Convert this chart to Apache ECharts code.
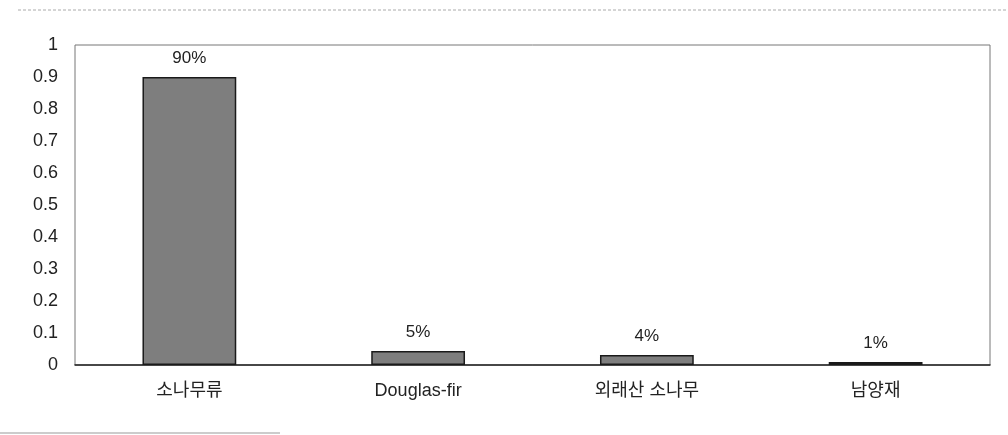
<!DOCTYPE html>
<html>
<head>
<meta charset="utf-8">
<script src="https://cdn.jsdelivr.net/npm/echarts@6/dist/echarts.min.js"></script>
<style>
  html,body{margin:0;padding:0;background:#fff;}
  #main{width:1008px;height:435px;}
</style>
</head>
<body>
<div id="main"></div>
<script>
// 카테고리와 값
var categories=["소나무류","Douglas-fir","외래산 소나무","남양재"];
var shares=[0.9,0.044,0.031,0.009];
var shareLabels=["90%","5%","4%","1%"];
var yTicks=[0,0.1,0.2,0.3,0.4,0.5,0.6,0.7,0.8,0.9,1];

var myChart=echarts.init(document.getElementById('main'));
var font="'Liberation Sans', 'Noto Sans CJK KR', sans-serif";

var option={
    backgroundColor:'#fff',
    animation:false,
    grid:{
        left:75,
        right:18,
        top:45,
        bottom:70,
        show:true,
        borderColor:'#777',
        borderWidth:1
    },
    graphic:[
        {type:'line',shape:{x1:18,y1:10,x2:1008,y2:10},style:{stroke:'#aaa',lineWidth:1,lineDash:[3,2]}},
        {type:'line',shape:{x1:0,y1:433,x2:280,y2:433},style:{stroke:'#999',lineWidth:1}}
    ],
    xAxis:{
        type:'category',
        data:categories,
        axisLine:{lineStyle:{color:'#222',width:1.5}},
        axisTick:{show:false},
        axisLabel:{
            color:'#222',
            fontSize:18,
            fontFamily:font,
            margin:17
        }
    },
    yAxis:{
        type:'value',
        min:0,
        max:1,
        interval:0.1,
        axisLine:{show:false},
        axisTick:{show:false},
        splitLine:{show:false},
        axisLabel:{
            color:'#222',
            fontSize:18,
            fontFamily:font,
            margin:17,
            formatter:function(v){
                for(var i=0;i<yTicks.length;i++){
                    if(Math.abs(yTicks[i]-v)<1e-9){return String(yTicks[i]);}
                }
                return '';
            }
        }
    },
    series:[{
        type:'bar',
        data:shares,
        barCategoryGap:'59%',
        itemStyle:{
            color:'#7e7e7e',
            borderColor:'#1a1a1a',
            borderWidth:1.5
        },
        label:{
            show:true,
            position:'top',
            distance:10,
            color:'#222',
            fontSize:17,
            fontFamily:font,
            formatter:function(p){
                return shareLabels[p.dataIndex];
            }
        }
    }]
};
myChart.setOption(option);
</script>
</body>
</html>
